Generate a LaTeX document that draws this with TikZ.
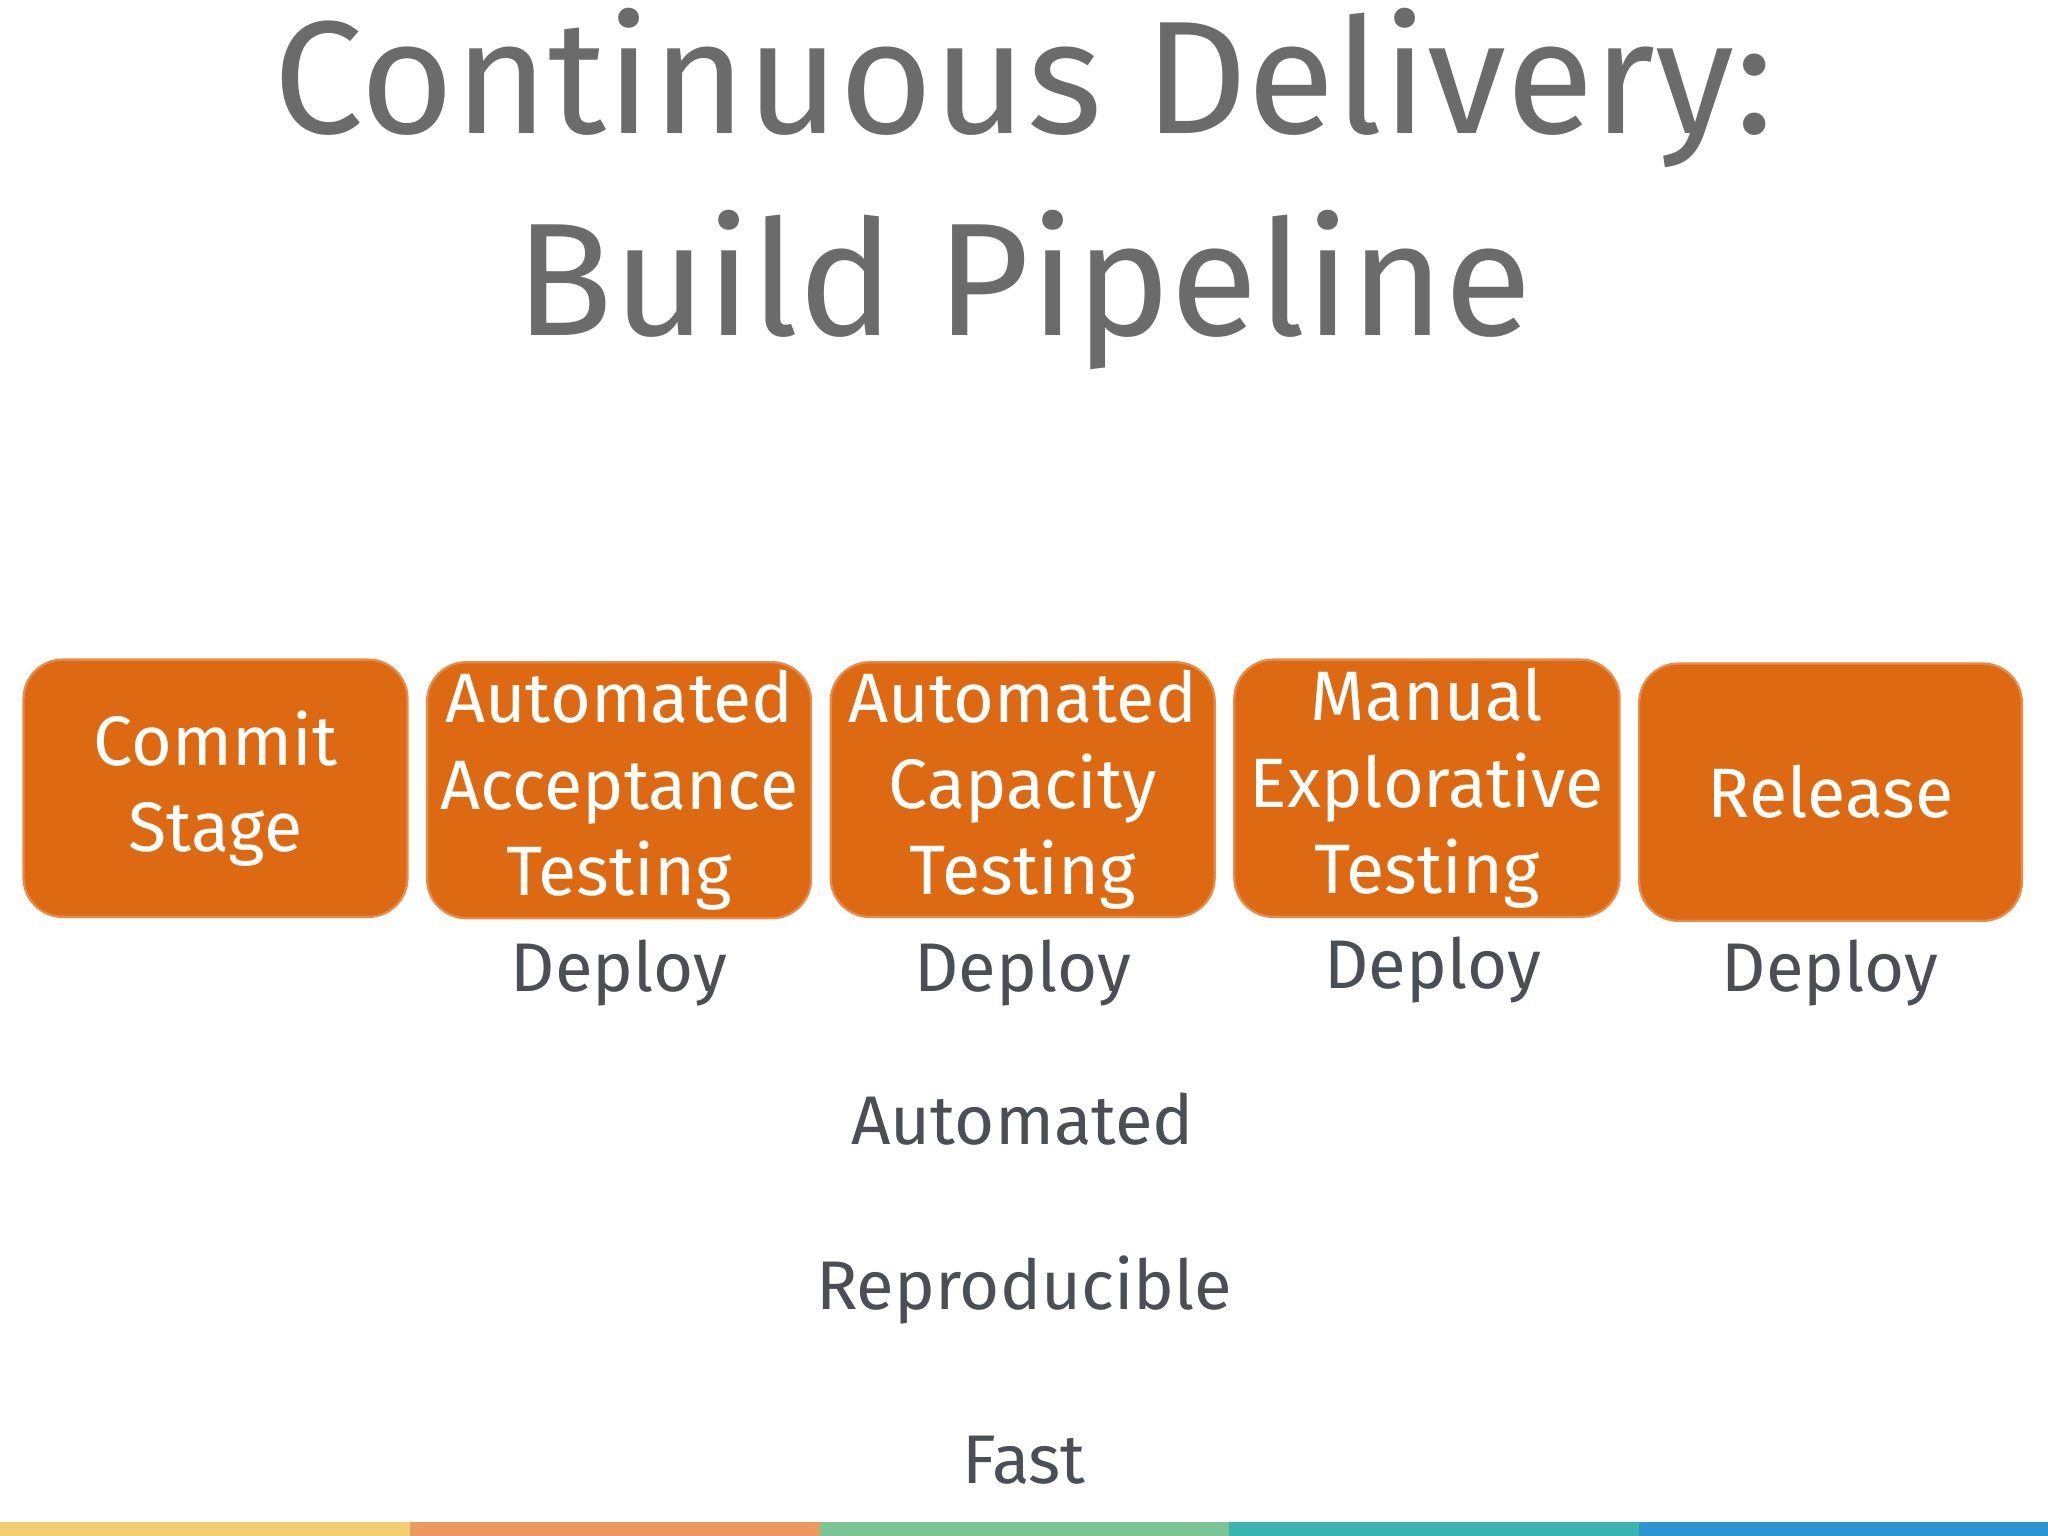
\documentclass[tikz,border=0pt]{standalone}
\usepackage{fontspec}
\setmainfont{Fira Sans}
\definecolor{ttl}{HTML}{6B6B6B}
\definecolor{org}{HTML}{DD6A12}
\definecolor{orgb}{HTML}{E88A4A}
\definecolor{txt}{HTML}{4A4E55}
\definecolor{s1}{HTML}{F3CF72}
\definecolor{s2}{HTML}{EC9A62}
\definecolor{s3}{HTML}{7BC595}
\definecolor{s4}{HTML}{3AB4AE}
\definecolor{s5}{HTML}{2D95CF}
\begin{document}
\begin{tikzpicture}[x=0.02cm,y=-0.02cm,
 stage/.style={draw=orgb,line width=1pt,fill=org,rounded corners=0.6cm,text=white,align=center,
   font=\fontsize{30.5}{37.5}\selectfont,inner sep=0pt,text width=5.5cm},
 lbl/.style={text=txt,font=\fontsize{30}{36}\selectfont,inner sep=0pt}]
\useasboundingbox (0,0) rectangle (1568,1176);
\fill[white] (0,0) rectangle (1568,1176);
\node[text=ttl,align=center,font=\fontsize{70}{88}\selectfont] (title) at (784,145) {Continuous Delivery:\\Build Pipeline};
\node[stage,minimum width=5.88cm,minimum height=3.94cm] (commit) at (165,603.5) {Commit\\Stage};
\node[stage,minimum width=5.88cm,minimum height=3.92cm] (acc) at (474,605) {Automated\\Acceptance\\Testing};
\node[stage,minimum width=5.88cm,minimum height=3.9cm] (cap) at (783,604.5) {Automated\\Capacity\\Testing};
\node[stage,minimum width=5.9cm,minimum height=3.94cm] (man) at (1092.5,603.5) {Manual\\Explorative\\Testing};
\node[stage,minimum width=5.86cm,minimum height=3.94cm] (rel) at (1401.5,606.5) {Release};
\node[lbl] (d1) at (474,745) {Deploy};
\node[lbl] (d2) at (783,745) {Deploy};
\node[lbl] (d3) at (1097,743) {Deploy};
\node[lbl] (d4) at (1401,745) {Deploy};
\node[lbl] (a) at (783,857) {Automated};
\node[lbl] (r) at (784,988) {Reproducible};
\node[lbl] (f) at (784,1118) {Fast};
\fill[s1] (0,1165) rectangle (314,1176);
\fill[s2] (314,1165) rectangle (628,1176);
\fill[s3] (628,1165) rectangle (941,1176);
\fill[s4] (941,1165) rectangle (1255,1176);
\fill[s5] (1255,1165) rectangle (1568,1176);
\end{tikzpicture}
\end{document}
